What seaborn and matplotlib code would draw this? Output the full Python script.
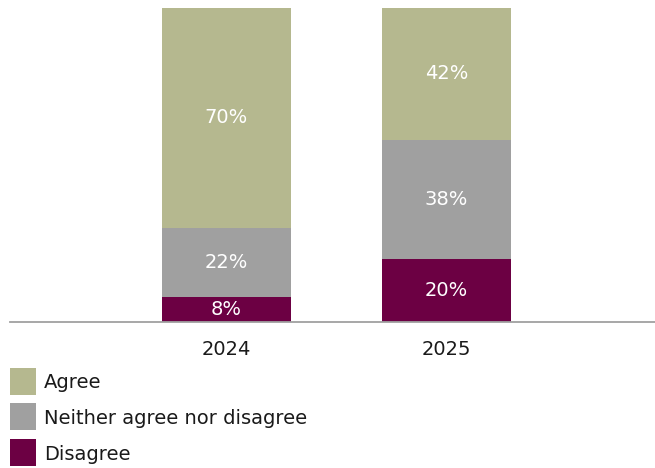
import matplotlib
matplotlib.use("Agg")
import matplotlib.pyplot as plt
from matplotlib.patches import Rectangle
import numpy as np
import pandas as pd
import seaborn as sns

years = ["2024", "2025"]
disagree = [8, 20]
neither = [22, 38]
agree = [70, 42]

series_names = ["Agree", "Neither agree nor disagree", "Disagree"]
colors = {"Agree": "#B5B88F", "Neither agree nor disagree": "#A0A0A0", "Disagree": "#6C0043"}

sns.set_theme(style="white")
plt.rcParams["font.family"] = ["DejaVu Sans"]

df = pd.DataFrame({"year": years, "Disagree": disagree,
                   "Neither agree nor disagree": neither, "Agree": agree})
df["cum_disagree"] = df["Disagree"]
df["cum_neither"] = df["cum_disagree"] + df["Neither agree nor disagree"]
df["cum_agree"] = df["cum_neither"] + df["Agree"]

W, H = 655, 468
fig = plt.figure(figsize=(W / 100, H / 100), dpi=100)
ax = fig.add_axes([10 / W, (H - 322) / H, 645 / W, 322 / H])

width = 0.586
FS = 14
# stacked bars: draw running totals from the top layer down
for col, name in [("cum_agree", "Agree"), ("cum_neither", "Neither agree nor disagree"),
                  ("cum_disagree", "Disagree")]:
    sns.barplot(data=df, x="year", y=col, color=colors[name], width=width,
                saturation=1, ax=ax, errorbar=None, linewidth=0)

# segment labels
for i in range(len(years)):
    base = 0
    for name in ["Disagree", "Neither agree nor disagree", "Agree"]:
        v = df.loc[i, name]
        ax.text(i, base + v / 2, f"{v}%", ha="center", va="center",
                color="white", fontsize=FS)
        base += v

ax.set_xlim(-0.984, 1.948)
ax.set_ylim(0, 102.5)
ax.set_xlabel("")
ax.set_ylabel("")
ax.set_yticks([])
for s in ["top", "right", "left"]:
    ax.spines[s].set_visible(False)
ax.spines["bottom"].set_color("#A0A0A0")
ax.spines["bottom"].set_linewidth(1.3)
ax.tick_params(axis="x", length=0, pad=13, labelsize=FS, labelcolor="#1a1a1a")

# legend: colour squares with labels, stacked below the chart
row_centers = [381, 416, 452]
for name, yc in zip(series_names, row_centers):
    fig.add_artist(Rectangle((10 / W, (H - yc - 13.5) / H), 26 / W, 27 / H,
                             transform=fig.transFigure, facecolor=colors[name],
                             edgecolor="none"))
    fig.text(44 / W, (H - yc) / H, name, ha="left", va="center_baseline",
             fontsize=FS, color="#1a1a1a")

fig.savefig("out.png", dpi=100)
